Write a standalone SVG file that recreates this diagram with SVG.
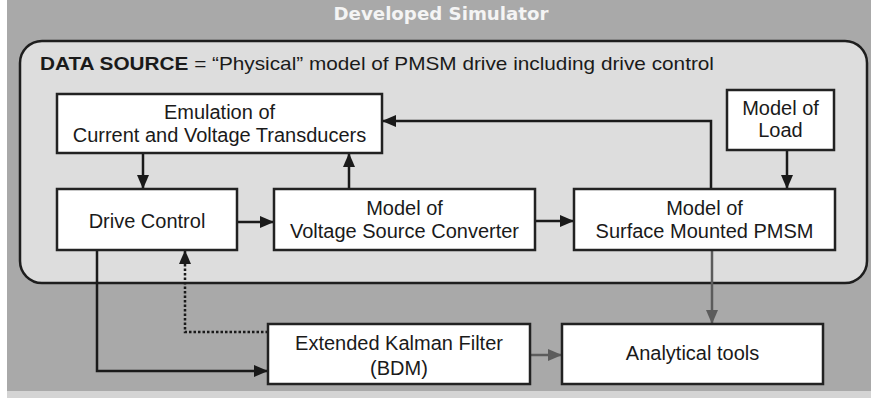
<svg xmlns="http://www.w3.org/2000/svg" width="871" height="398" viewBox="0 0 871 398">
<defs>
<style>
.box{fill:#fff;stroke:#222;stroke-width:2.5}
.t{font-family:"Liberation Sans",Arial,sans-serif;font-size:20px;fill:#1a1a1a;text-anchor:middle}
.c{fill:none;stroke:#1a1a1a;stroke-width:2.5}
.g{fill:none;stroke:#5c5c5c;stroke-width:2.5}
</style>
<marker id="ab" viewBox="0 0 14 12" refX="14" refY="6" markerWidth="14" markerHeight="12" markerUnits="userSpaceOnUse" orient="auto">
<path d="M0,0 L14,6 L0,12 Z" fill="#1a1a1a"/>
</marker>
<marker id="ag" viewBox="0 0 14 12" refX="14" refY="6" markerWidth="14" markerHeight="12" markerUnits="userSpaceOnUse" orient="auto">
<path d="M0,0 L14,6 L0,12 Z" fill="#5c5c5c"/>
</marker>
</defs>
<rect x="0" y="0" width="871" height="398" fill="#ffffff"/>
<rect x="7" y="0" width="864" height="391" fill="#a9a9a9"/>
<rect x="7" y="391" width="864" height="7" fill="#d4d4d4"/>
<text x="441" y="20" font-family="'DejaVu Sans',Verdana,sans-serif" font-weight="bold" font-size="18" fill="#f4f4f4" text-anchor="middle" textLength="215" lengthAdjust="spacingAndGlyphs">Developed Simulator</text>
<g id="datasource">
<rect x="20" y="41" width="847" height="242" rx="22" ry="22" fill="#dddddd" stroke="#1e1e1e" stroke-width="2.5"/>
<text x="40" y="70" font-family="'Liberation Sans',Arial,sans-serif" font-size="19" fill="#1a1a1a" textLength="674" lengthAdjust="spacingAndGlyphs"><tspan font-weight="bold">DATA SOURCE</tspan> = “Physical” model of PMSM drive including drive control</text>
</g>
<g id="connectors">
<path class="c" d="M143,153 V189" marker-end="url(#ab)"/>
<path class="c" d="M349,189 V153" marker-end="url(#ab)"/>
<path class="c" d="M237,222 H274" marker-end="url(#ab)"/>
<path class="c" d="M535,221 H574" marker-end="url(#ab)"/>
<path class="c" d="M711,189 V121 H382" marker-end="url(#ab)"/>
<path class="c" d="M787,150 V189" marker-end="url(#ab)"/>
<path class="c" d="M97,250 V371 H268" marker-end="url(#ab)"/>
<path class="c" d="M268,332 H185 V250" stroke-dasharray="2.5 2" marker-end="url(#ab)"/>
<path class="g" d="M712,250 V324" marker-end="url(#ag)"/>
<path class="g" d="M530,355 H562" marker-end="url(#ag)"/>
</g>
<g id="emulation">
<rect class="box" x="57" y="94" width="325" height="59"/>
<text class="t" x="219.5" y="119">Emulation of</text>
<text class="t" x="219.5" y="142">Current and Voltage Transducers</text>
</g>
<g id="drivecontrol">
<rect class="box" x="57" y="189" width="180" height="61"/>
<text class="t" x="147" y="228">Drive Control</text>
</g>
<g id="vsc">
<rect class="box" x="274" y="189" width="261" height="61"/>
<text class="t" x="404.5" y="215">Model of</text>
<text class="t" x="404.5" y="238">Voltage Source Converter</text>
</g>
<g id="pmsm">
<rect class="box" x="574" y="189" width="261" height="61"/>
<text class="t" x="704.5" y="215">Model of</text>
<text class="t" x="704.5" y="238">Surface Mounted PMSM</text>
</g>
<g id="load">
<rect class="box" x="727" y="90" width="107" height="60"/>
<text class="t" x="780.5" y="115">Model of</text>
<text class="t" x="780.5" y="137">Load</text>
</g>
<g id="ekf">
<rect class="box" x="268" y="324" width="262" height="60"/>
<text class="t" x="399" y="350">Extended Kalman Filter</text>
<text class="t" x="399" y="375">(BDM)</text>
</g>
<g id="analytical">
<rect class="box" x="562" y="324" width="261" height="60"/>
<text class="t" x="692.5" y="360">Analytical tools</text>
</g>
</svg>
